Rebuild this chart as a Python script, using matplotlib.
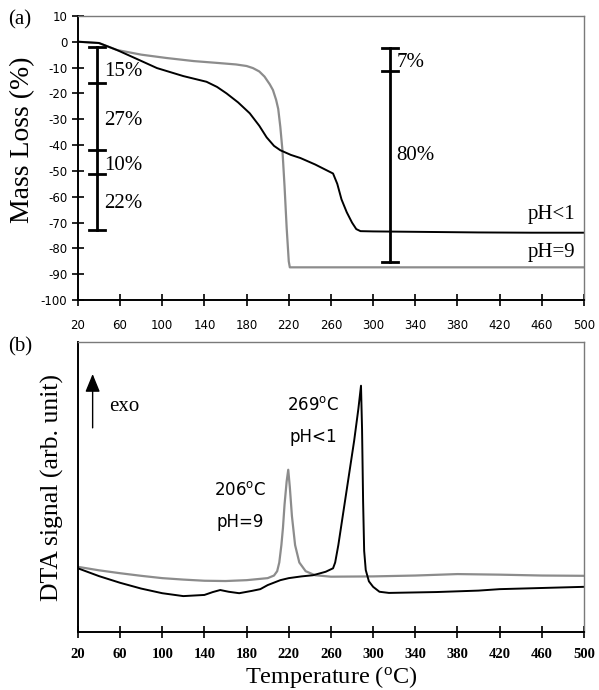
import matplotlib
matplotlib.use('Agg')
import matplotlib.pyplot as plt
import numpy as np

plt.rcParams['axes.unicode_minus'] = False

# (a) mass loss curves
temp_acid = [20, 40, 57, 75, 95, 120, 142, 152, 161, 172, 183, 192, 199, 206, 212, 222, 231, 245, 262,
             266, 270, 275, 280, 284, 288, 300, 350, 400, 450, 500]
loss_acid = [0, -0.5, -3.2, -6.5, -10.2, -13.3, -15.5, -17.5, -20, -23.5, -27.7, -32.5, -37, -40.3, -42, -43.8,
             -45, -47.5, -51, -55, -61, -66, -70, -72.5, -73.3, -73.4, -73.6, -73.8, -73.9, -73.9]
temp_base = [20, 40, 57, 80, 104, 130, 152, 170, 180, 186, 192, 197, 202, 205, 208, 210, 212, 214, 216, 218,
             220, 221, 250, 300, 400, 500]
loss_base = [0, -0.5, -3.2, -5, -6.3, -7.5, -8.2, -8.8, -9.4, -10.2, -11.5, -13.5, -16.5, -18.7, -22.5, -26,
             -33, -42, -56, -72, -85, -87.3, -87.3, -87.3, -87.3, -87.3]

# step bars: (top, bottom, label, label y) for each stage
steps_acid = [(-2, -16, '15%', -11.6), (-16, -42, '27%', -30.3), (-42, -51, '10%', -48), (-51, -73, '22%', -62.6)]
steps_base = [(-2.4, -11.3, '7%', -8), (-11.3, -85.3, '80%', -44)]

# (b) DTA curves (arbitrary units)
dta_temp_acid = [20, 40, 60, 80, 100, 120, 140, 148, 155, 163, 173, 185, 193, 200, 212, 220, 232, 243, 255, 262,
                 264, 267, 272, 277, 282, 286, 288.5, 289.5, 290.5, 291.5, 293, 296, 300, 306, 315, 330, 360, 400,
                 420, 460, 500]
dta_acid = [22, 19.3, 17, 15, 13.4, 12.4, 12.8, 13.8, 14.5, 13.9, 13.4, 14.2, 14.8, 16.2, 17.9, 18.6, 19.2, 19.6,
            20.8, 22, 24, 30, 42, 54, 66, 77, 85, 70, 45, 28, 21.4, 17.5, 15.6, 13.9, 13.5, 13.6, 13.8, 14.3,
            14.8, 15.2, 15.6]
dta_temp_base = [20, 40, 60, 80, 100, 120, 140, 160, 180, 200, 206, 209, 211, 213, 214.5, 216, 218, 219.5, 221,
                 223, 226, 230, 236, 245, 260, 300, 340, 380, 420, 460, 500]
dta_base = [22.5, 21.3, 20.3, 19.4, 18.6, 18.1, 17.7, 17.6, 17.9, 18.6, 19.5, 21, 24, 30, 36, 44, 52, 56, 50,
            40, 30, 24, 21, 19.6, 19.1, 19.2, 19.5, 20, 19.8, 19.5, 19.4]

xticks = list(range(20, 501, 40))
serif = 'Liberation Serif'
grey = '#8c8c8c'

fig = plt.figure(figsize=(5.99, 6.9), dpi=100)
ax1 = fig.add_axes([0.130, 0.565, 0.845, 0.412])
ax2 = fig.add_axes([0.130, 0.084, 0.845, 0.420])


def frame(ax):
    for s in ['top', 'right']:
        ax.spines[s].set_color('#7a7a7a')
        ax.spines[s].set_linestyle((0, (1, 1)))
        ax.spines[s].set_linewidth(1.0)
    for s in ['bottom', 'left']:
        ax.spines[s].set_linewidth(1.4)
    ax.set_xlim(20, 500)
    ax.set_xticks(xticks)
    ax.tick_params(axis='both', direction='inout', length=9, width=1.2)


# ---- panel (a)
frame(ax1)
ax1.plot(temp_base, loss_base, color=grey, lw=1.6)
ax1.plot(temp_acid, loss_acid, color='black', lw=1.4)
ax1.set_ylim(-100, 10)
ax1.set_yticks(range(-100, 11, 10))
ax1.tick_params(axis='x', pad=9)
ax1.tick_params(axis='y', pad=3)
for lab in ax1.get_xticklabels() + ax1.get_yticklabels():
    lab.set_family('DejaVu Sans')
    lab.set_fontsize(8.5)
ax1.set_ylabel('Mass Loss (%)', family=serif, fontsize=20, labelpad=3)
ax1.yaxis.set_label_coords(-0.085, 0.565)


def step_bar(ax, x, steps, tx, cap=7.5):
    for top, bot, lab, ly in steps:
        ax.plot([x, x], [top, bot], color='black', lw=2)
        ax.text(tx, ly, lab, family=serif, fontsize=15, va='center', ha='left')
    levels = sorted(set([s[0] for s in steps] + [s[1] for s in steps]))
    for lv in levels:
        ax.plot([x - cap, x + cap], [lv, lv], color='black', lw=2)


step_bar(ax1, 38, steps_acid, 45)
step_bar(ax1, 316, steps_base, 322)
ax1.text(492, -67, 'pH<1', family=serif, fontsize=15, ha='right', va='center')
ax1.text(492, -81.5, 'pH=9', family=serif, fontsize=15, ha='right', va='center')
fig.text(0.013, 0.971, '(a)', family=serif, fontsize=15, va='center')

# ---- panel (b)
frame(ax2)
ax2.plot(dta_temp_base, dta_base, color=grey, lw=1.6)
ax2.plot(dta_temp_acid, dta_acid, color='black', lw=1.4)
ax2.set_ylim(0, 100)
ax2.set_yticks([])
ax2.tick_params(axis='x', pad=7)
for lab in ax2.get_xticklabels():
    lab.set_family(serif)
    lab.set_fontweight('bold')
    lab.set_fontsize(10.5)
ax2.set_xlabel('Temperature ($\\mathregular{^oC}$)', family=serif, fontsize=17.5, labelpad=2)
ax2.set_ylabel('DTA signal (arb. unit)', family=serif, fontsize=18.5, labelpad=10)
ax2.annotate('', xy=(34, 90), xytext=(34, 69.5),
             arrowprops=dict(arrowstyle='-|>,head_width=0.45,head_length=1.1', color='black', lw=1.0))
ax2.text(50, 77.7, 'exo', family=serif, fontsize=15, va='center')
ax2.text(174, 49, '206$\\mathregular{^oC}$', fontsize=12, ha='center', va='center')
ax2.text(174, 38, 'pH=9', fontsize=12, ha='center', va='center')
ax2.text(243, 78.3, '269$\\mathregular{^oC}$', fontsize=12, ha='center', va='center')
ax2.text(243, 67.3, 'pH<1', fontsize=12, ha='center', va='center')
fig.text(0.013, 0.497, '(b)', family=serif, fontsize=15, va='center')

fig.savefig('out.png', dpi=100)
